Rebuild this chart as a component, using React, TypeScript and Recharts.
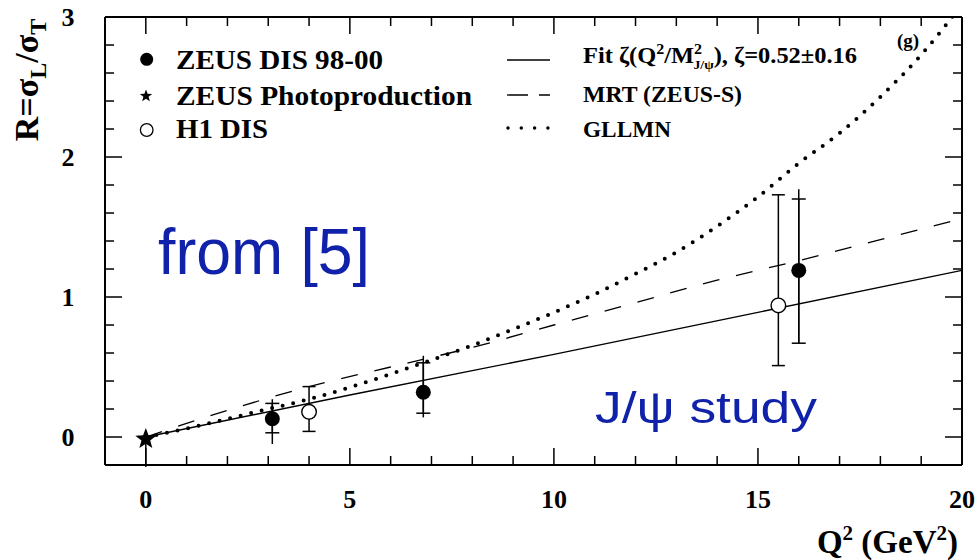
import React from 'react';
import { ComposedChart, Line, Scatter, XAxis, YAxis, ErrorBar } from 'recharts';

// ---- data ----
const FIT_Q2 = [0, 5, 10, 15, 20];
const FIT_R = [0, 0.3, 0.59, 0.89, 1.19];

const MRT_Q2 = [0, 2, 4, 6, 8, 10, 12, 14, 16, 18, 20];
const MRT_R = [0, 0.19, 0.36, 0.5, 0.64, 0.8, 0.96, 1.12, 1.26, 1.41, 1.56];

const GLLMN_Q2 = [0, 1, 2, 3, 4, 5, 6, 7, 8, 9, 10, 11, 12, 13, 14, 15, 16, 17, 18, 19, 20];
const GLLMN_R = [0, 0.06, 0.13, 0.2, 0.27, 0.355, 0.45, 0.55, 0.655, 0.77, 0.89, 1.02, 1.165, 1.32, 1.505, 1.715, 1.955, 2.17, 2.43, 2.73, 3.09];

const ZEUS_Q2 = [3.1, 6.8, 16.0];
const ZEUS_R = [0.13, 0.32, 1.19];
const ZEUS_STAT = [[0.1, 0.11], [0.15, 0.21], [0.52, 0.51]];
const ZEUS_TOT = [[0.18, 0.14], [0.18, 0.26], [0.52, 0.58]];

const H1_Q2 = [4.0, 15.5];
const H1_R = [0.18, 0.94];
const H1_ERR = [[0.14, 0.18], [0.43, 0.79]];

const PHOTO_Q2 = [0];
const PHOTO_R = [-0.015];
const PHOTO_ERR = [[0.2, 0]];

const X_TICKS = [0, 1, 2, 3, 4, 5, 6, 7, 8, 9, 10, 11, 12, 13, 14, 15, 16, 17, 18, 19, 20];
const X_MAJOR = [0, 5, 10, 15, 20];
const Y_TICKS = [0, 0.2, 0.4, 0.6, 0.8, 1, 1.2, 1.4, 1.6, 1.8, 2, 2.2, 2.4, 2.6, 2.8, 3];
const Y_MAJOR = [0, 1, 2, 3];

// ---- derived tables ----
const fitData = FIT_Q2.map((q, i) => ({ q2: q, r: FIT_R[i] }));
const mrtData = MRT_Q2.map((q, i) => ({ q2: q, r: MRT_R[i] }));
const gllmnData = GLLMN_Q2.map((q, i) => ({ q2: q, r: GLLMN_R[i] }));
const zeusData = ZEUS_Q2.map((q, i) => ({ q2: q, r: ZEUS_R[i], stat: ZEUS_STAT[i], tot: ZEUS_TOT[i] }));
const h1Data = H1_Q2.map((q, i) => ({ q2: q, r: H1_R[i], err: H1_ERR[i] }));
const photoData = PHOTO_Q2.map((q, i) => ({ q2: q, r: PHOTO_R[i], err: PHOTO_ERR[i] }));

const SERIF = "'Liberation Serif', 'Times New Roman', serif";
const SANS = "'Liberation Sans', Arial, sans-serif";
const BLUE = '#1022aa';
const MAJOR_LEN = 17;
const MINOR_LEN = 9;

const starPath = (cx: number, cy: number, R: number) => {
  const rIn = R * 0.42;
  let d = '';
  for (let i = 0; i < 10; i++) {
    const a = (-90 + i * 36) * Math.PI / 180;
    const rr = i % 2 === 0 ? R : rIn;
    d += (i === 0 ? 'M' : 'L') + (cx + rr * Math.cos(a)).toFixed(2) + ',' + (cy + rr * Math.sin(a)).toFixed(2);
  }
  return d + 'Z';
};

const BottomTick = (p: any) => {
  const v = p.payload.value;
  const major = X_MAJOR.includes(v);
  return (
    <g>
      <line x1={p.x} x2={p.x} y1={p.y} y2={p.y - (major ? MAJOR_LEN : MINOR_LEN)} stroke="#000" strokeWidth={1.5} />
      {major && (
        <text x={p.x} y={p.y + 43} textAnchor="middle" fontFamily={SERIF} fontWeight="bold" fontSize={26} fill="#000">
          {v}
        </text>
      )}
    </g>
  );
};

const TopTick = (p: any) => {
  const v = p.payload.value;
  const major = X_MAJOR.includes(v);
  return <line x1={p.x} x2={p.x} y1={p.y} y2={p.y + (major ? MAJOR_LEN : MINOR_LEN)} stroke="#000" strokeWidth={1.5} />;
};

const LeftTick = (p: any) => {
  const v = p.payload.value;
  const major = Y_MAJOR.includes(v);
  return (
    <g>
      <line x1={p.x} x2={p.x + (major ? MAJOR_LEN : MINOR_LEN)} y1={p.y} y2={p.y} stroke="#000" strokeWidth={1.5} />
      {major && (
        <text x={p.x - 37} y={p.y + 9} textAnchor="middle" fontFamily={SERIF} fontWeight="bold" fontSize={26} fill="#000">
          {v}
        </text>
      )}
    </g>
  );
};

const RightTick = (p: any) => {
  const v = p.payload.value;
  const major = Y_MAJOR.includes(v);
  return <line x1={p.x} x2={p.x - (major ? MAJOR_LEN : MINOR_LEN)} y1={p.y} y2={p.y} stroke="#000" strokeWidth={1.5} />;
};

const FilledDot = (p: any) => <circle cx={p.cx} cy={p.cy} r={7.5} fill="#000" />;
const OpenDot = (p: any) => <circle cx={p.cx} cy={p.cy} r={7.3} fill="#fff" stroke="#000" strokeWidth={1.4} />;
const StarDot = (p: any) => <path d={starPath(p.cx, p.cy, 11)} fill="#000" />;

const W = 979;
const H = 560;

export default function App() {
  const axisLine = { stroke: '#000', strokeWidth: 2 };
  return (
    <div style={{ position: 'absolute', left: 0, top: 0, width: W, height: H, overflow: 'hidden', background: '#fff' }}>
      <ComposedChart width={W} height={H} margin={{ top: 16, right: 16, bottom: 94, left: 104 }}>
        <XAxis xAxisId="b" orientation="bottom" dataKey="q2" type="number" domain={[-1, 20]} allowDataOverflow
          ticks={X_TICKS} interval={0} tick={(p: any) => <BottomTick {...p} />} tickLine={false} tickSize={0} tickMargin={0}
          height={1} axisLine={axisLine} />
        <XAxis xAxisId="t" orientation="top" dataKey="q2" type="number" domain={[-1, 20]} allowDataOverflow
          ticks={X_TICKS} interval={0} tick={(p: any) => <TopTick {...p} />} tickLine={false} tickSize={0} tickMargin={0}
          height={1} axisLine={axisLine} />
        <YAxis yAxisId="l" orientation="left" dataKey="r" type="number" domain={[-0.2, 3]} allowDataOverflow
          ticks={Y_TICKS} interval={0} tick={(p: any) => <LeftTick {...p} />} tickLine={false} tickSize={0} tickMargin={0}
          width={1} axisLine={axisLine} />
        <YAxis yAxisId="rt" orientation="right" dataKey="r" type="number" domain={[-0.2, 3]} allowDataOverflow
          ticks={Y_TICKS} interval={0} tick={(p: any) => <RightTick {...p} />} tickLine={false} tickSize={0} tickMargin={0}
          width={1} axisLine={axisLine} />

        <Line xAxisId="b" yAxisId="l" data={fitData} dataKey="r" type="linear" stroke="#000" strokeWidth={1.4}
          dot={false} activeDot={false} isAnimationActive={false} />
        <Line xAxisId="b" yAxisId="l" data={mrtData} dataKey="r" type="monotone" stroke="#000" strokeWidth={1.3}
          strokeDasharray="17 17" dot={false} activeDot={false} isAnimationActive={false} />
        <Line xAxisId="b" yAxisId="l" data={gllmnData} dataKey="r" type="monotone" stroke="#000" strokeWidth={4}
          strokeDasharray="0 10.8" strokeLinecap="round" dot={false} activeDot={false} isAnimationActive={false} />

        <Scatter xAxisId="b" yAxisId="l" data={photoData} dataKey="r" shape={(p: any) => <StarDot {...p} />} isAnimationActive={false}>
          <ErrorBar dataKey="err" direction="y" width={0} stroke="#000" strokeWidth={1.5} isAnimationActive={false} />
        </Scatter>
        <Scatter xAxisId="b" yAxisId="l" data={h1Data} dataKey="r" shape={(p: any) => <OpenDot {...p} />} isAnimationActive={false}>
          <ErrorBar dataKey="err" direction="y" width={6.5} stroke="#000" strokeWidth={1.5} isAnimationActive={false} />
        </Scatter>
        <Scatter xAxisId="b" yAxisId="l" data={zeusData} dataKey="r" shape={(p: any) => <FilledDot {...p} />} isAnimationActive={false}>
          <ErrorBar dataKey="tot" direction="y" width={0} stroke="#000" strokeWidth={1.5} isAnimationActive={false} />
          <ErrorBar dataKey="stat" direction="y" width={7} stroke="#000" strokeWidth={1.5} isAnimationActive={false} />
        </Scatter>
      </ComposedChart>

      <svg width={W} height={H} style={{ position: 'absolute', left: 0, top: 0, pointerEvents: 'none' }}>
        {/* y-axis title */}
        <text transform="translate(38,80) rotate(-90)" textAnchor="middle" fontFamily={SERIF} fontWeight="bold" fontSize={34} fill="#000">
          R=σ<tspan fontSize={24} dy={8}>L</tspan><tspan dy={-8}>/σ</tspan><tspan fontSize={24} dy={8}>T</tspan>
        </text>
        {/* x-axis title */}
        <text x={958} y={553} textAnchor="end" fontFamily={SERIF} fontWeight="bold" fontSize={33} fill="#000">
          Q<tspan fontSize={21} dy={-13}>2</tspan><tspan dy={13}> (GeV</tspan><tspan fontSize={21} dy={-13}>2</tspan><tspan dy={13}>)</tspan>
        </text>

        {/* left legend */}
        <circle cx={146.7} cy={59.3} r={6.5} fill="#000" />
        <text x={176} y={69} fontFamily={SERIF} fontWeight="bold" fontSize={27} fill="#000" textLength={207} lengthAdjust="spacingAndGlyphs">ZEUS DIS 98-00</text>
        <path d={starPath(146, 96, 6.5)} fill="#000" />
        <text x={176} y={105} fontFamily={SERIF} fontWeight="bold" fontSize={27} fill="#000" textLength={296} lengthAdjust="spacingAndGlyphs">ZEUS Photoproduction</text>
        <circle cx={146.7} cy={130} r={6.3} fill="#fff" stroke="#000" strokeWidth={1.3} />
        <text x={176} y={138} fontFamily={SERIF} fontWeight="bold" fontSize={27} fill="#000" textLength={92} lengthAdjust="spacingAndGlyphs">H1 DIS</text>

        {/* right legend */}
        <line x1={507} x2={550} y1={60} y2={60} stroke="#000" strokeWidth={1.4} />
        <text x={583} y={63} fontFamily={SERIF} fontWeight="bold" fontSize={23} fill="#000" textLength={274} lengthAdjust="spacingAndGlyphs">
          Fit ζ(Q<tspan fontSize={15} dy={-9}>2</tspan><tspan dy={9}>/M</tspan><tspan fontSize={15} dy={-9}>2</tspan><tspan fontSize={13} dx={-8} dy={15}>J/ψ</tspan><tspan dy={-6}>), ζ=0.52±0.16</tspan>
        </text>
        <line x1={507} x2={550} y1={95} y2={95} stroke="#000" strokeWidth={1.3} strokeDasharray="21 11" />
        <text x={583} y={102} fontFamily={SERIF} fontWeight="bold" fontSize={23} fill="#000" textLength={159} lengthAdjust="spacingAndGlyphs">MRT (ZEUS-S)</text>
        <line x1={508} x2={549} y1={128} y2={128} stroke="#000" strokeWidth={3.5} strokeDasharray="0 13.3" strokeLinecap="round" />
        <text x={583} y={137} fontFamily={SERIF} fontWeight="bold" fontSize={23} fill="#000" textLength={88} lengthAdjust="spacingAndGlyphs">GLLMN</text>

        <text x={897} y={47} fontFamily={SERIF} fontWeight="bold" fontSize={19} fill="#000">(g)</text>

        {/* annotations */}
        <text x={158} y={274} fontFamily={SANS} fontSize={64} fill={BLUE} textLength={212} lengthAdjust="spacingAndGlyphs">from [5]</text>
        <text x={595} y={423} fontFamily={SANS} fontSize={44} fill={BLUE} textLength={222} lengthAdjust="spacingAndGlyphs">J/ψ study</text>
      </svg>
    </div>
  );
}
